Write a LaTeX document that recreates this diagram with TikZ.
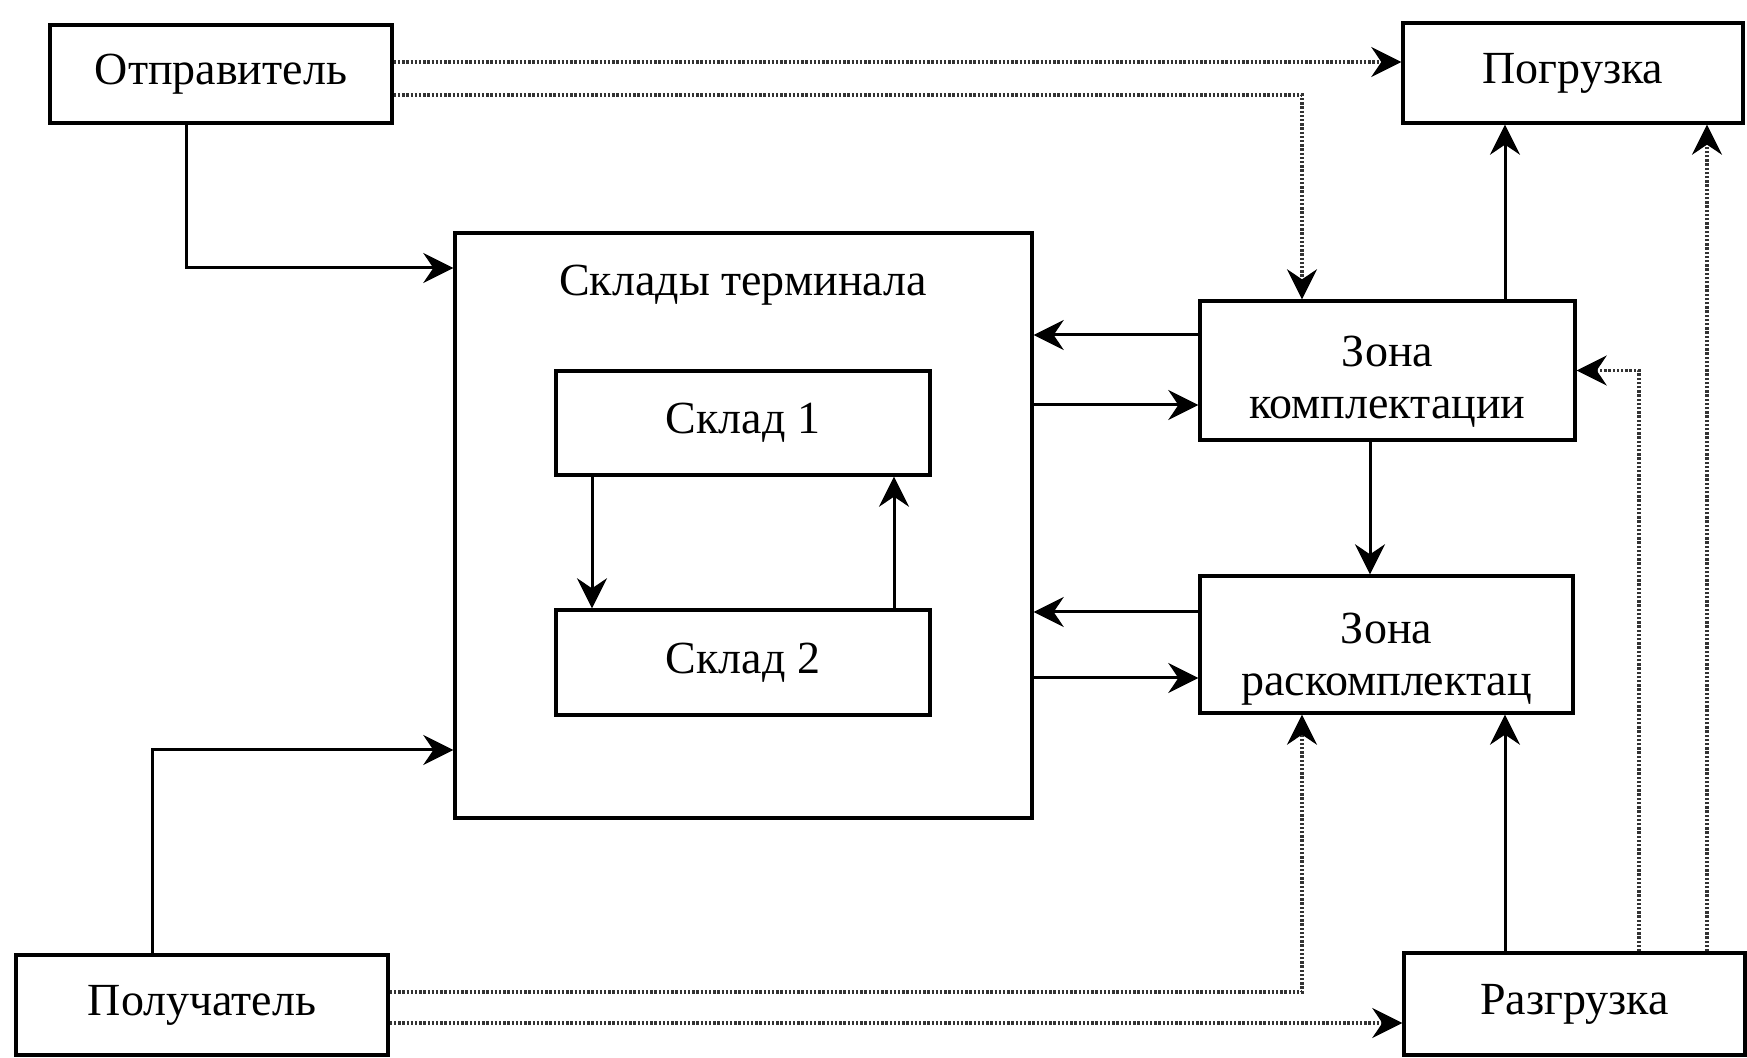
\documentclass[tikz,border=0pt]{standalone}
\usepackage{fontspec}
\setmainfont{Liberation Serif}
\usetikzlibrary{arrows.meta}
\begin{document}
\begin{tikzpicture}[x=0.5pt,y=-0.5pt,
  box/.style={draw=black,line width=1.7pt,fill=none,inner sep=0pt,font=\fontsize{23}{26}\selectfont},
  lbl/.style={inner sep=0pt,font=\fontsize{23}{26}\selectfont,align=center},
  conn/.style={line width=1.5pt,-{Stealth[length=15pt,width=15pt,inset=5pt]}},
  dotconn/.style={line width=1.6pt,dash pattern=on 1.2pt off 0.9pt,black!80,-{Stealth[length=15pt,width=15pt,inset=5pt,black]}}]
\useasboundingbox (0,0) rectangle (1747,1058);
% boxes
\node[box,minimum width=171pt,minimum height=49pt] (otp) at (221,74) {Отправитель};
\node[box,minimum width=170pt,minimum height=50pt] (pog) at (1573,73) {Погрузка};
\node[box,minimum width=288.5pt,minimum height=292.5pt] (big) at (743.5,525.5) {};
\node[lbl] (bigt) at (743,285) {Склады терминала};
\node[box,minimum width=187pt,minimum height=52pt] (s1) at (743,423) {Склад 1};
\node[box,minimum width=187pt,minimum height=52.5pt] (s2) at (743,662.5) {Склад 2};
\node[box,minimum width=187.5pt,minimum height=69.5pt] (zk) at (1387.5,370.5) {};
\node[lbl] (zkt) at (1387.5,382) {Зона\\комплектации};
\node[box,minimum width=186.5pt,minimum height=68.5pt] (zr) at (1386.5,644.5) {};
\node[lbl] (zrt) at (1386.5,659) {Зона\\раскомплектац};
\node[box,minimum width=186pt,minimum height=50pt] (pol) at (202,1005) {Получатель};
\node[box,minimum width=170.5pt,minimum height=51pt] (raz) at (1574.5,1004) {Разгрузка};
% dotted connectors
\draw[dotconn] ([yshift=6pt]otp.east) -- ([yshift=6pt]otp.east -| pog.west);
\draw[dotconn] ([yshift=-10.5pt]otp.east) -| ([xshift=-42.75pt]zk.north);
\draw[dotconn] ([yshift=6.5pt]pol.east) -| ([xshift=-42.25pt]zr.south);
\draw[dotconn] ([yshift=-9pt]pol.east) -- ([yshift=-9pt]pol.east -| raz.west);
\draw[dotconn] ([xshift=66.25pt]raz.north) -- ([xshift=66.25pt]raz.north |- pog.south);
\draw[dotconn] ([xshift=32.25pt]raz.north) |- (zk.east);
% solid connectors
\draw[conn] ([xshift=-17.5pt]otp.south) |- ([yshift=128.75pt]big.west);
\draw[conn] ([xshift=-25pt]pol.north) |- ([yshift=-112.25pt]big.west);
\draw[conn] ([xshift=-34.75pt]raz.north) -- ([xshift=-34.75pt]raz.north |- zr.south);
\draw[conn] ([xshift=58.75pt]zk.north) -- ([xshift=58.75pt]zk.north |- pog.south);
\draw[conn] ([yshift=17.75pt]zk.west) -- ([yshift=17.75pt]zk.west -| big.east);
\draw[conn] ([yshift=-17.25pt]zk.west -| big.east) -- ([yshift=-17.25pt]zk.west);
\draw[conn] ([yshift=16.25pt]zr.west) -- ([yshift=16.25pt]zr.west -| big.east);
\draw[conn] ([yshift=-16.75pt]zr.west -| big.east) -- ([yshift=-16.75pt]zr.west);
\draw[conn] ([xshift=-8.75pt]zk.south) -- ([xshift=-8.75pt]zk.south |- zr.north);
\draw[conn] ([xshift=-75.5pt]s1.south) -- ([xshift=-75.5pt]s1.south |- s2.north);
\draw[conn] ([xshift=75.5pt]s2.north) -- ([xshift=75.5pt]s2.north |- s1.south);
\end{tikzpicture}
\end{document}
